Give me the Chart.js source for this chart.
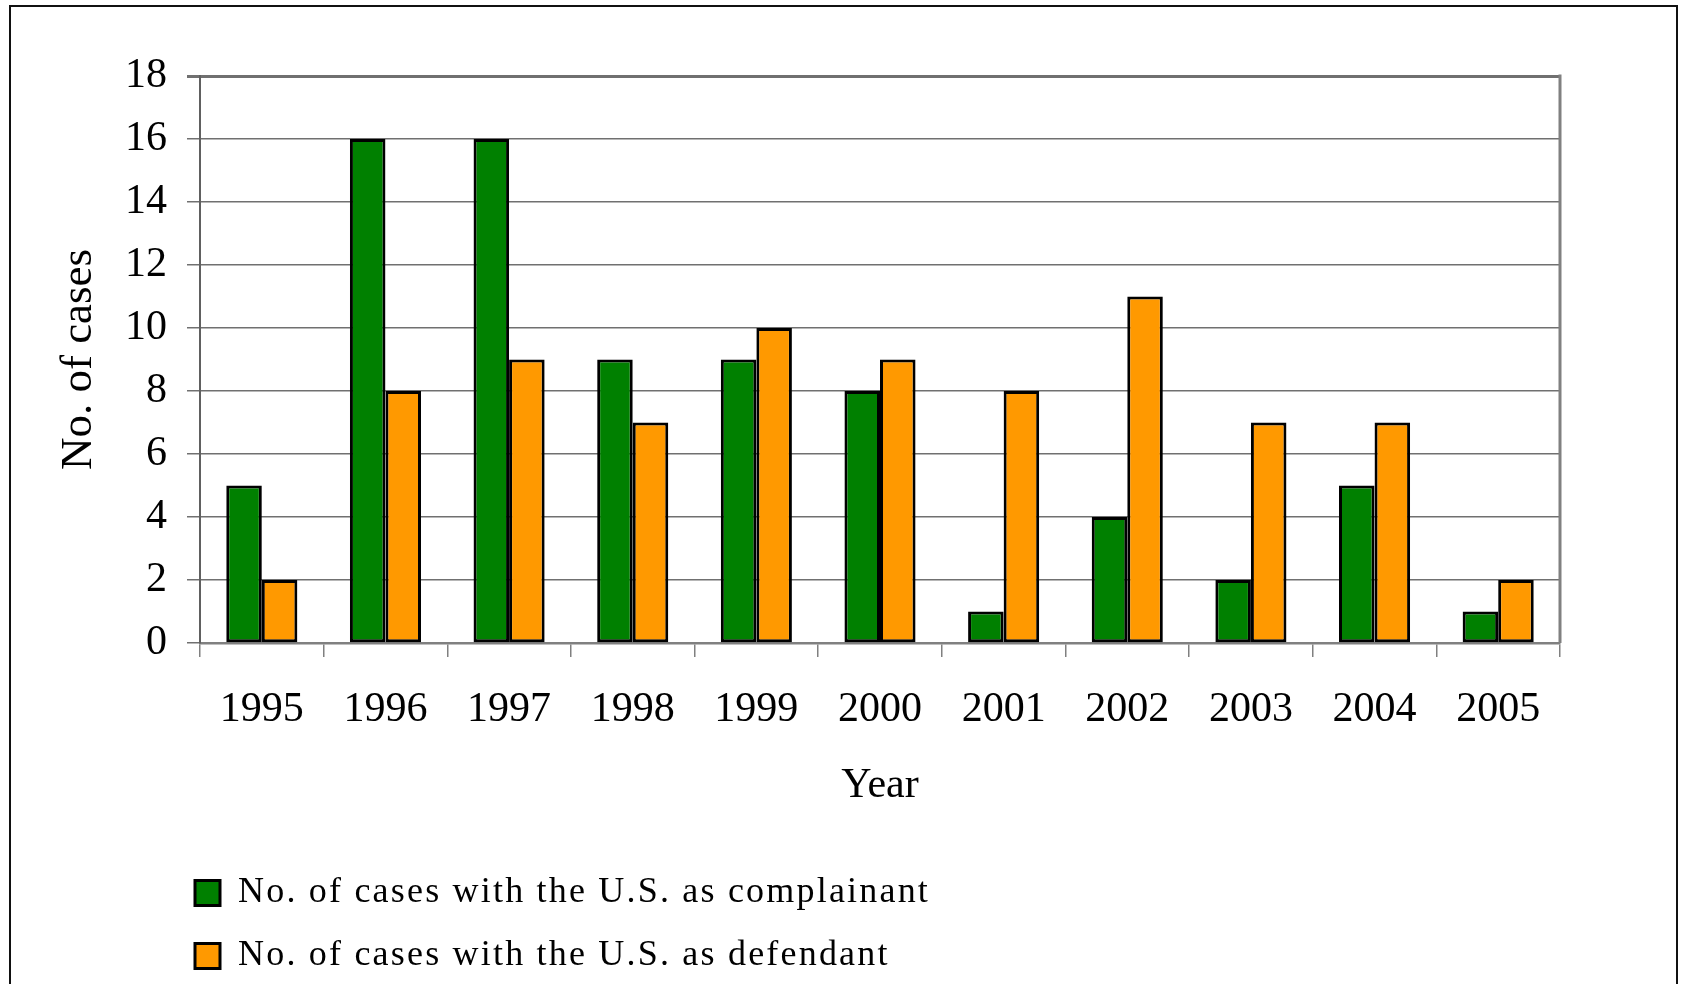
<!DOCTYPE html>
<html>
<head>
<meta charset="utf-8">
<script src="https://cdn.jsdelivr.net/npm/chart.js@4/dist/chart.umd.min.js"></script>
<style>
  html, body { margin: 0; padding: 0; background: #ffffff; }
  #wrap { width: 1683px; height: 984px; }
</style>
</head>
<body>
<div id="wrap"><canvas id="chart" width="1683" height="984"></canvas></div>
<script>
// WTO dispute cases involving the U.S., by year
const years = ['1995', '1996', '1997', '1998', '1999', '2000', '2001', '2002', '2003', '2004', '2005'];
const asComplainant = [5, 16, 16, 9, 9, 8, 1, 4, 2, 5, 1];
const asDefendant = [2, 8, 9, 7, 10, 9, 8, 11, 7, 7, 2];
const seriesNames = ['No. of cases with the U.S. as complainant', 'No. of cases with the U.S. as defendant'];
const yTicks = [0, 2, 4, 6, 8, 10, 12, 14, 16, 18];

const SERIF = "'Liberation Serif', 'Times New Roman', serif";
const LEGEND_SPACING = '2.2px';

// Frame round the whole figure plus the right edge of the plot box
const framePlugin = {
  id: 'frame',
  beforeDraw(chart) {
    const ctx = chart.ctx;
    ctx.save();
    ctx.fillStyle = '#ffffff';
    ctx.fillRect(0, 0, chart.width, chart.height);
    ctx.strokeStyle = '#111111';
    ctx.lineWidth = 2;
    ctx.strokeRect(10, 6, chart.width - 16, chart.height + 20);
    ctx.restore();
  },
  afterDatasetsDraw(chart) {
    const {ctx, chartArea} = chart;
    ctx.save();
    ctx.strokeStyle = '#808080';
    ctx.lineWidth = 3;
    ctx.beginPath();
    ctx.moveTo(chartArea.right, chartArea.top - 1.5);
    ctx.lineTo(chartArea.right, chartArea.bottom);
    ctx.stroke();
    ctx.restore();
  }
};

// Legend text is set with a little tracking; legend sits under the y-axis gutter
const legendPlugin = {
  id: 'legendTweaks',
  afterInit(chart) {
    const legend = chart.legend;
    const fit = legend.fit;
    const draw = legend.draw;
    legend.fit = function () {
      chart.ctx.save();
      chart.ctx.letterSpacing = LEGEND_SPACING;
      fit.call(this);
      chart.ctx.restore();
    };
    legend.draw = function () {
      chart.ctx.save();
      chart.ctx.letterSpacing = LEGEND_SPACING;
      draw.call(this);
      chart.ctx.restore();
    };
  },
  afterLayout(chart) {
    const legend = chart.legend;
    const shift = legend.left - 168;
    legend.left -= shift;
    legend.right -= shift;
  }
};

new Chart(document.getElementById('chart'), {
  type: 'bar',
  data: {
    labels: years,
    datasets: [
      {
        label: seriesNames[0],
        data: asComplainant,
        backgroundColor: '#008000',
        borderColor: '#000000',
        borderWidth: 3,
        borderSkipped: false
      },
      {
        label: seriesNames[1],
        data: asDefendant,
        backgroundColor: '#FF9900',
        borderColor: '#000000',
        borderWidth: 3,
        borderSkipped: false
      }
    ]
  },
  options: {
    responsive: false,
    animation: false,
    categoryPercentage: 0.575,
    barPercentage: 1.0,
    layout: { padding: { left: 0, right: 123, top: 76, bottom: 0 } },
    plugins: {
      tooltip: { enabled: false },
      legend: {
        position: 'bottom',
        align: 'start',
        fullSize: false,
        labels: {
          font: { family: SERIF, size: 36 },
          color: '#000000',
          boxWidth: 25,
          boxHeight: 25,
          padding: 27
        }
      }
    },
    scales: {
      x: {
        grid: {
          offset: true,
          drawOnChartArea: false,
          drawTicks: true,
          tickLength: 14,
          color: '#808080',
          lineWidth: 1.5
        },
        border: { display: true, color: '#808080', width: 2.5 },
        ticks: {
          font: { family: SERIF, size: 42 },
          color: '#000000',
          padding: 28,
          maxRotation: 0,
          autoSkip: false
        },
        title: {
          display: true,
          text: 'Year',
          font: { family: SERIF, size: 42 },
          color: '#000000',
          padding: { top: 0, bottom: 37 }
        },
        afterFit(scale) { scale.height = 205; }
      },
      y: {
        min: 0,
        max: 18,
        afterBuildTicks(scale) { scale.ticks = yTicks.map(v => ({ value: v })); },
        grid: {
          drawTicks: true,
          tickLength: 13,
          color: '#707070',
          lineWidth: (c) => (c.tick && c.tick.value === 18 ? 3 : 1.5)
        },
        border: { display: true, color: '#606060', width: 2 },
        ticks: {
          font: { family: SERIF, size: 42 },
          color: '#000000',
          padding: 20
        },
        title: {
          display: true,
          text: 'No. of cases',
          font: { family: SERIF, size: 45 },
          color: '#000000',
          padding: { top: 52, bottom: 0 }
        },
        afterFit(scale) { scale.width = 200; }
      }
    }
  },
  plugins: [framePlugin, legendPlugin]
});
</script>
</body>
</html>
